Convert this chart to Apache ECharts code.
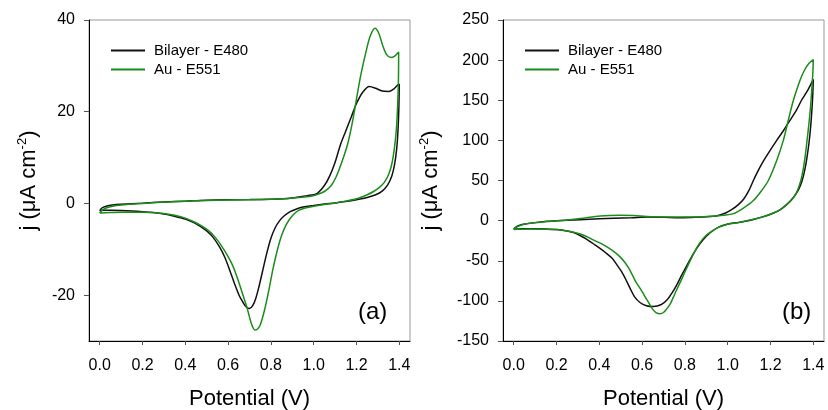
<!DOCTYPE html>
<html>
<head>
<meta charset="utf-8">
<script src="https://cdn.jsdelivr.net/npm/echarts@6/dist/echarts.min.js"></script>
<style>
  html, body { margin: 0; padding: 0; background: #fff; }
  #chart { width: 828px; height: 410px; }
</style>
</head>
<body>
<div id="chart"></div>
<script>
// tick labels
const xTicks = [0, 0.2, 0.4, 0.6, 0.8, 1.0, 1.2, 1.4];
const yTicksA = [-20, 0, 20, 40];
const yTicksB = [-150, -100, -50, 0, 50, 100, 150, 200, 250];
const seriesNames = ['Bilayer - E480', 'Au - E551'];

// panel (a): potential (V) and current density (uA cm-2), loop from 0 V up to 1.4 V and back
const aBilayerV = [0.0, 0.01, 0.03, 0.06, 0.1, 0.2, 0.3, 0.4, 0.5, 0.6, 0.7, 0.8, 0.88, 0.93, 0.97, 1.0, 1.02, 1.05, 1.075, 1.1, 1.125, 1.15, 1.175, 1.2, 1.23, 1.26, 1.29, 1.32, 1.35, 1.375, 1.392, 1.4,
  1.398, 1.394, 1.388, 1.378, 1.365, 1.345, 1.32, 1.29, 1.25, 1.2, 1.15, 1.1, 1.05, 1.0, 0.95, 0.92, 0.89, 0.86, 0.84, 0.82, 0.8, 0.78, 0.76, 0.745, 0.73, 0.715, 0.7, 0.685, 0.67, 0.653, 0.63, 0.607, 0.585, 0.56, 0.53, 0.5, 0.47, 0.44, 0.4, 0.35, 0.3, 0.25, 0.2, 0.15, 0.1, 0.05, 0.02, 0.0];
const aBilayerJ = [-1.6, -1.0, -0.6, -0.35, -0.2, 0.05, 0.3, 0.5, 0.7, 0.8, 0.85, 0.9, 1.1, 1.4, 1.7, 1.9, 2.3, 3.9, 6.0, 9.0, 12.8, 15.8, 18.8, 21.8, 24.3, 25.5, 25.1, 24.5, 24.4, 25.0, 25.8, 26.0,
  21.0, 16.0, 12.0, 8.5, 6.0, 4.0, 2.7, 1.9, 1.3, 0.8, 0.4, 0.1, -0.15, -0.45, -0.8, -1.2, -1.8, -2.8, -3.8, -5.3, -7.6, -11.0, -15.0, -18.0, -20.6, -22.3, -22.9, -22.6, -21.6, -20.2, -17.5, -14.5, -11.8, -9.5, -7.4, -6.0, -5.0, -4.2, -3.4, -2.8, -2.3, -2.0, -1.8, -1.65, -1.55, -1.5, -1.5, -1.6];
const aAuV = [0.0, 0.01, 0.03, 0.06, 0.1, 0.2, 0.3, 0.4, 0.5, 0.6, 0.7, 0.8, 0.88, 0.93, 0.98, 1.02, 1.05, 1.08, 1.104, 1.13, 1.159, 1.18, 1.2, 1.22, 1.244, 1.265, 1.287, 1.305, 1.322, 1.34, 1.361, 1.38, 1.397,
  1.396, 1.392, 1.386, 1.377, 1.365, 1.35, 1.33, 1.307, 1.28, 1.25, 1.2, 1.15, 1.1, 1.05, 1.0, 0.96, 0.93, 0.91, 0.89, 0.87, 0.85, 0.83, 0.81, 0.79, 0.77, 0.75, 0.735, 0.725, 0.712, 0.7, 0.69, 0.675, 0.66, 0.64, 0.62, 0.6, 0.57, 0.54, 0.51, 0.48, 0.44, 0.4, 0.35, 0.3, 0.2, 0.1, 0.05, 0.0];
const aAuJ = [-2.1, -1.5, -1.0, -0.6, -0.35, 0.0, 0.3, 0.5, 0.65, 0.75, 0.8, 0.9, 1.1, 1.3, 1.5, 2.0, 2.6, 3.8, 5.7, 8.8, 13.0, 17.5, 22.8, 28.0, 33.0, 36.6, 38.2, 37.0, 34.5, 32.5, 31.8, 32.2, 33.0,
  27.0, 21.0, 16.0, 12.0, 8.6, 6.3, 4.6, 3.5, 2.6, 1.9, 1.0, 0.5, 0.1, -0.25, -0.6, -1.0, -1.5, -2.2, -3.3, -4.8, -7.0, -10.2, -14.2, -19.0, -23.3, -26.5, -27.5, -27.6, -26.6, -24.8, -23.0, -20.8, -18.6, -15.8, -13.4, -11.6, -9.3, -7.4, -6.0, -5.0, -4.0, -3.2, -2.6, -2.2, -1.9, -1.9, -2.0, -2.1];

// panel (b)
const bBilayerV = [0.0, 0.01, 0.025, 0.047, 0.1, 0.156, 0.25, 0.31, 0.4, 0.467, 0.55, 0.622, 0.7, 0.778, 0.85, 0.933, 0.96, 0.99, 1.02, 1.05, 1.075, 1.1, 1.12, 1.14, 1.16, 1.19, 1.229, 1.26, 1.291, 1.32, 1.345, 1.375, 1.4,
  1.398, 1.394, 1.388, 1.38, 1.37, 1.36, 1.348, 1.33, 1.307, 1.275, 1.244, 1.2, 1.167, 1.12, 1.089, 1.05, 1.011, 0.97, 0.933, 0.9, 0.871, 0.84, 0.809, 0.785, 0.762, 0.74, 0.716, 0.69, 0.653, 0.62, 0.59, 0.565, 0.545, 0.525, 0.505, 0.485, 0.46, 0.43, 0.4, 0.37, 0.34, 0.31, 0.28, 0.25, 0.2, 0.15, 0.093, 0.04, 0.0];
const bBilayerJ = [-10.4, -8, -6, -4.6, -2.5, -0.8, 0.5, 1.2, 2.2, 2.9, 3.6, 4.6, 4.2, 3.7, 4.2, 5.4, 6.8, 9.5, 14, 20, 27, 38, 50, 61, 71, 84, 100, 112, 125, 137, 150, 163, 176,
  160, 140, 118, 97, 78, 63, 50, 38, 29, 20, 13.5, 8, 5, 1.5, -0.5, -2.2, -3.7, -6.5, -12, -19.5, -28.7, -41, -56, -68, -80, -90, -99, -104.5, -107, -106, -102, -95, -85, -74, -64, -56, -47, -40, -34, -28.5, -23, -18.5, -15, -12.8, -11, -10.3, -10, -10.2, -10.4];
const bAuV = [0.0, 0.01, 0.03, 0.06, 0.156, 0.25, 0.311, 0.404, 0.498, 0.56, 0.622, 0.7, 0.855, 0.93, 0.98, 1.027, 1.07, 1.12, 1.16, 1.19, 1.229, 1.26, 1.283, 1.307, 1.338, 1.36, 1.38, 1.4,
  1.398, 1.394, 1.388, 1.38, 1.37, 1.36, 1.348, 1.335, 1.32, 1.3, 1.27, 1.244, 1.2, 1.15, 1.1, 1.05, 1.0, 0.96, 0.933, 0.905, 0.88, 0.855, 0.83, 0.8, 0.778, 0.76, 0.745, 0.731, 0.715, 0.7, 0.684, 0.665, 0.648, 0.63, 0.61, 0.59, 0.572, 0.555, 0.537, 0.518, 0.498, 0.47, 0.434, 0.4, 0.36, 0.33, 0.29, 0.25, 0.2, 0.15, 0.08, 0.03, 0.0];
const bAuJ = [-11, -8.5, -6, -4, -1.2, 0.8, 2.5, 5.8, 6.7, 6.3, 5.2, 4.6, 4.6, 5.5, 6.7, 8.7, 15, 25, 38, 50, 75, 100, 125, 150, 175, 188, 196, 200.8,
  185, 168, 145, 122, 98, 76, 57, 44, 34, 26, 18.5, 13.5, 8, 3.5, 0.5, -2.5, -4.5, -8, -12, -17, -24, -34, -47, -64, -77, -87, -96, -104, -110, -114.5, -116, -114.5, -110, -102, -93, -84, -77, -68, -59, -51.5, -45.5, -39, -32.5, -27.5, -22.5, -18.5, -15, -12.8, -11.2, -10.6, -10.5, -10.8, -11];

const black = '#111111';
const green = '#1a8c1a';
const font = 'Liberation Sans, Arial, sans-serif';

function pairs(xs, ys) {
  return xs.map((x, i) => [x, ys[i]]);
}

function xAxisFor(gridIndex) {
  return {
    type: 'value', gridIndex: gridIndex,
    min: -0.05, max: 1.45,
    name: 'Potential (V)', nameLocation: 'middle', nameGap: 47,
    nameTextStyle: { fontSize: 22, color: '#000', fontFamily: font },
    axisLine: { onZero: false, lineStyle: { color: '#000', width: 1 } },
    axisTick: { customValues: xTicks, inside: false, length: 4, lineStyle: { color: '#555' } },
    axisLabel: {
      customValues: xTicks, margin: 17, fontSize: 16, color: '#000', fontFamily: font,
      formatter: v => v.toFixed(1)
    },
    splitLine: { show: false }
  };
}

function yAxisFor(gridIndex, min, max, ticks, gap) {
  return {
    type: 'value', gridIndex: gridIndex,
    min: min, max: max,
    name: 'j (μA cm{sup|-2})', nameLocation: 'middle', nameGap: gap,
    nameTextStyle: {
      fontSize: 22, color: '#000', fontFamily: font,
      rich: { sup: { fontSize: 13, color: '#000', fontFamily: font, padding: [0, 0, 12, 0] } }
    },
    axisLine: { onZero: false, lineStyle: { color: '#000', width: 1 } },
    axisTick: { customValues: ticks, inside: false, length: 5, lineStyle: { color: '#555' } },
    axisLabel: { customValues: ticks, margin: 14, fontSize: 16, color: '#000', fontFamily: font },
    splitLine: { show: false }
  };
}

function lineSeries(name, color, idx, data) {
  return {
    name: name, type: 'line', xAxisIndex: idx, yAxisIndex: idx,
    data: data, showSymbol: false, smooth: 0.3,
    lineStyle: { color: color, width: 1.5 },
    itemStyle: { color: color },
    emphasis: { disabled: true }
  };
}

function legendAt(left) {
  return {
    left: left, top: 43, orient: 'vertical', padding: 0,
    data: seriesNames, icon: 'rect', itemWidth: 34, itemHeight: 2, itemGap: 4,
    selectedMode: false,
    textStyle: { fontSize: 15, color: '#000', fontFamily: font, lineHeight: 15, padding: [0, 0, 0, 4] }
  };
}

const chart = echarts.init(document.getElementById('chart'), null, { renderer: 'canvas' });
chart.setOption({
  animation: false,
  grid: [
    { left: 89, top: 20, width: 321, height: 321, outerBoundsMode: 'none', show: true, borderColor: '#999', borderWidth: 1 },
    { left: 503, top: 20, width: 321, height: 321, outerBoundsMode: 'none', show: true, borderColor: '#999', borderWidth: 1 }
  ],
  xAxis: [xAxisFor(0), xAxisFor(1)],
  yAxis: [yAxisFor(0, -30, 40, yTicksA, 48), yAxisFor(1, -150, 250, yTicksB, 60)],
  legend: [legendAt(111), legendAt(525)],
  series: [
    lineSeries(seriesNames[0], black, 0, pairs(aBilayerV, aBilayerJ)),
    lineSeries(seriesNames[1], green, 0, pairs(aAuV, aAuJ)),
    lineSeries(seriesNames[0], black, 1, pairs(bBilayerV, bBilayerJ)),
    lineSeries(seriesNames[1], green, 1, pairs(bAuV, bAuJ))
  ],
  graphic: [
    { type: 'text', left: 358, top: 300, style: { text: '(a)', fontSize: 24, fill: '#000', fontFamily: font } },
    { type: 'text', left: 782, top: 300, style: { text: '(b)', fontSize: 24, fill: '#000', fontFamily: font } }
  ]
});
</script>
</body>
</html>
